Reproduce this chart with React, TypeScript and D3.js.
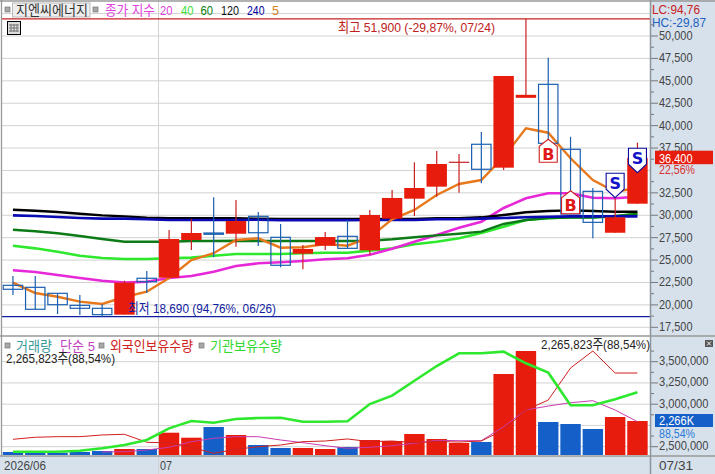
import React from "react";
import * as d3 from "d3";

const opens = [22186,21960,21290,19950,19620,18910,22970,23030,27240,28020,27940,29880,27540,25710,26600,27650,26090,29620,31850,33190,35910,37920,35310,43270,44610,37360,32670,28050,31290];
const highs = [23223,23220,21290,21100,20100,22700,23780,28350,29550,32000,31700,30360,29030,26680,28130,29470,30590,32820,35910,37170,36830,39290,45540,51900,47580,38760,33040,31890,38100];
const lows = [21103,19510,18980,18870,18690,18910,21330,23030,26120,25310,26490,26570,24190,23970,26120,26310,25570,29620,29920,32070,32520,33570,35050,43270,38030,30140,27430,28050,31290];
const closes = [21740,19510,20020,19620,18910,22480,22590,27350,28020,27880,29360,28050,24420,26240,27570,26310,30030,31930,33040,35720,35910,35130,45540,43270,38030,30140,29210,29770,36400];

const ma5 = [22480,21330,20910,20360,20100,20880,21470,23000,25010,25760,27240,27430,26380,26430,26790,26600,27540,29550,30590,32260,33490,33930,36500,39700,39210,36360,33930,32630,33040];
const ma20 = [23860,23670,23340,23000,22700,22480,22590,23000,23220,23700,24340,24640,24750,24900,25090,25200,25600,26270,27050,27800,28610,29280,30810,31890,32450,32450,31960,31890,32070];
const ma40 = [26600,26310,25930,25490,25230,25120,25120,25200,25270,25490,25680,25680,25680,25760,25820,25820,26050,26310,26760,27050,27430,28020,28720,29470,29660,29770,29770,29840,30220];
const ma60 = [28390,28210,27990,27690,27350,27050,27050,27050,27130,27130,27160,27130,27130,27130,27130,27130,27160,27320,27540,27760,27940,28170,29030,29470,29690,29750,29750,29920,30140];
const ma120 = [30620,30510,30360,30170,29990,29880,29730,29660,29660,29660,29660,29620,29580,29580,29580,29580,29580,29580,29580,29660,29660,29770,30030,30330,30480,30550,30480,30400,30400];
const ma240 = [29990,29920,29810,29690,29620,29620,29550,29470,29470,29470,29470,29500,29440,29440,29440,29440,29470,29470,29470,29550,29550,29620,29690,29770,29840,29880,29880,29880,29880];

const volumes = [200000,153000,153000,200000,267000,400000,400000,1486000,1153000,1866000,1333000,666000,466000,466000,400000,533000,1000000,933000,1400000,1066000,800000,866000,5398000,6931000,2199000,2066000,1733000,2532000,2265823];
const volumeUp = [0,0,0,0,0,1,0,1,1,0,1,0,0,1,1,0,1,1,1,1,1,0,1,1,0,0,0,1,1];
const volumeAvg5 = [200000,220000,333000,513000,886000,1113000,1220000,1220000,1000000,820000,620000,446000,513000,620000,780000,980000,953000,953000,1886000,2999000,3265000,3485000,3619000,2999000,2219000];
const foreignHold = [2587000,2611000,2618000,2618000,2638000,2646000,2552000,2544000,2493000,2422000,2469000,2500000,2520000,2559000,2567000,2591000,2559000,2567000,2547000,2561000,2555000,2567000,2696000,2932000,3049000,3426000,3626000,3367000,3367000];
const instHold = [2441000,2441000,2441000,2453000,2481000,2520000,2579000,2716000,2802000,2782000,2826000,2838000,2841000,2794000,2794000,2799000,3002000,3100000,3276000,3449000,3599000,3599000,3618000,3481000,3371000,2987000,2987000,3058000,3140000];

const priceGrid = [52500,50000,47500,45000,42500,40000,37500,35000,32500,30000,27500,25000,22500,20000,17500];
const priceLabels = [50000,47500,45000,42500,40000,37500,32500,30000,27500,25000,22500,20000,17500];
const holdGrid = [3500000,3250000,3000000,2750000,2500000];
const holdLabels = [3500000,3250000,3000000,2500000];
const maxPrice = 51900;
const minPrice = 18690;
const markers = [
  { i: 24, kind: "B", price: 38475 },
  { i: 25, kind: "B", price: 32740 },
  { i: 27, kind: "S", price: 31960 },
  { i: 28, kind: "S", price: 34750 },
];

const RED = "#e81c0c";
const BLUE = "#1a5fb0";
const GRID = "#d2d2d2";
const PANEL = "#d6e1ec";
const FONT = '"Liberation Sans","Noto Sans CJK KR",sans-serif';

function T({ x, y, w, fill = "#444", size = 13.5, weight, children, anchor }: any) {
  return (
    <text x={x} y={y} textLength={w} lengthAdjust="spacingAndGlyphs" fill={fill} fontSize={size}
      fontFamily={FONT} fontWeight={weight} textAnchor={anchor}>{children}</text>
  );
}

function Square({ x, y }: any) {
  return <rect x={x} y={y} width={5} height={5} fill="#a8a8a8" stroke="#777" strokeWidth={0.7} />;
}

export default function App() {
  const idx = d3.range(opens.length);
  const band = d3.scaleBand<number>().domain(idx).range([1.85, 648.55]).paddingInner(0.085).paddingOuter(0.04);
  const cx = (i: number) => (band(i) as number) + band.bandwidth() / 2;
  const py = d3.scaleLinear().domain([17500, 50000]).range([327.3, 36]);
  const hy = d3.scaleLinear().domain([2500000, 3500000]).range([446.7, 361.7]);
  const vy = d3.scaleLinear().domain([0, 6931000]).range([455, 351]);
  const fmt = d3.format(",");
  const line = (scale: any, offset = 0) =>
    d3.line<number>().x((_, i) => cx(i + offset)).y((d) => scale(d)).curve(d3.curveLinear);
  const minorTicks = d3.range(18750, 52500, 2500);
  const minorHold = [3625000,3375000,3125000,2875000,2625000];
  const maSeries: [number[], string, number][] = [
    [ma40, "#2ee82e", 2.6],
    [ma20, "#e628d8", 2.6],
    [ma60, "#0c7a16", 2.4],
    [ma120, "#000000", 2.4],
    [ma240, "#0a0ab4", 2.6],
    [ma5, "#e8781c", 2.4],
  ];
  return (
    <svg width={715} height={474} style={{ position: "fixed", left: 0, top: 0, background: "#fff" }}>
      <rect x={650.5} y={0} width={65} height={474} fill={PANEL} />
      <rect x={0} y={456} width={715} height={18} fill={PANEL} />
      {priceGrid.map((t) => (
        <line key={t} x1={2} x2={650} y1={py(t)} y2={py(t)} stroke={GRID} strokeWidth={1} />
      ))}
      {holdGrid.map((t) => (
        <line key={t} x1={2} x2={650} y1={hy(t)} y2={hy(t)} stroke={GRID} strokeWidth={1} />
      ))}
      <line x1={158.5} x2={158.5} y1={0} y2={474} stroke={GRID} strokeWidth={1} />
      {maSeries.map(([s, c, w], k) => (
        <path key={k} d={line(py)(s) as string} fill="none" stroke={c} strokeWidth={w} />
      ))}
      <line x1={2} x2={650} y1={py(minPrice)} y2={py(minPrice)} stroke="#1020a0" strokeWidth={1.2} />
      <line x1={2} x2={650} y1={py(maxPrice)} y2={py(maxPrice)} stroke="#c82020" strokeWidth={1.2} />
      {idx.map((i) => {
        const flat = closes[i] === opens[i];
        const isRed = closes[i] >= opens[i];
        const top = py(Math.max(opens[i], closes[i]));
        const bot = py(Math.min(opens[i], closes[i]));
        const bw = band.bandwidth();
        const x0 = band(i) as number;
        return (
          <g key={i}>
            <line x1={cx(i)} x2={cx(i)} y1={py(highs[i])} y2={py(lows[i])}
              stroke={isRed ? "#c82020" : BLUE} strokeWidth={1.2} />
            {isRed ? (
              <rect x={x0} y={top - (flat ? (i === 23 ? 1.5 : 0.6) : 0)} width={bw}
                height={flat ? (i === 23 ? 3 : 1.2) : bot - top} fill={i === 20 ? "#c82020" : RED} />
            ) : (
              <rect x={x0 + 0.5} y={top} width={bw - 1} height={bot - top} fill="none" stroke={BLUE} strokeWidth={1.2} />
            )}
          </g>
        );
      })}
      {markers.map((m, k) => {
        const x = cx(m.i);
        const y = py(m.price);
        const buy = m.kind === "B";
        const d = buy
          ? `M${x},${y}L${x + 9},${y + 7}V${y + 23}H${x - 9}V${y + 7}Z`
          : `M${x},${y}L${x + 9},${y - 8.5}V${y - 24.5}H${x - 9}V${y - 8.5}Z`;
        return (
          <g key={k}>
            <path d={d} fill="#fff" stroke={buy ? "#d02020" : "#0a0a9a"} strokeWidth={1.1} />
            <text x={x} y={buy ? y + 20.5 : y - 9} textAnchor="middle" fontSize={16} fontWeight={700}
              fontFamily='"DejaVu Sans",sans-serif' fill={buy ? "#e01818" : "#1010c8"}>{m.kind}</text>
          </g>
        );
      })}
      {idx.map((i) => (
        <rect key={i} x={band(i) as number} y={vy(volumes[i])} width={band.bandwidth()} height={455 - vy(volumes[i])}
          fill={volumeUp[i] ? RED : "#1460c8"} />
      ))}
      <path d={line(vy, 4)(volumeAvg5) as string} fill="none" stroke="#c83cb0" strokeWidth={1} />
      <path d={line(hy)(foreignHold) as string} fill="none" stroke="#d02020" strokeWidth={1} />
      <path d={line(hy)(instHold) as string} fill="none" stroke="#2ee82e" strokeWidth={2.6} />
      <line x1={0} x2={715} y1={1} y2={1} stroke="#999" strokeWidth={1.3} />
      <line x1={1.5} x2={1.5} y1={0} y2={456} stroke="#999" strokeWidth={1.3} />
      <line x1={650.5} x2={650.5} y1={0} y2={474} stroke="#8c949c" strokeWidth={1.5} />
      <line x1={0} x2={715} y1={336} y2={336} stroke="#999" strokeWidth={1.3} />
      <line x1={0} x2={715} y1={456} y2={456} stroke="#999" strokeWidth={1.3} />
      <Square x={5} y={7} />
      <rect x={12.5} y={3} width={77.5} height={14} fill="#eee" stroke="#bbb" />
      <T x={16} y={15} w={72} fill="#333">지엔씨에너지</T>
      <Square x={93} y={7} />
      <T x={105} y={15} w={50} fill="#e040e0">종가 지수</T>
      <T x={160} y={15} w={12.5} fill="#e040e0">20</T>
      <T x={181} y={15} w={12.5} fill="#40e040">40</T>
      <T x={200.5} y={15} w={12.5} fill="#0a800a">60</T>
      <T x={221} y={15} w={18} fill="#111">120</T>
      <T x={247} y={15} w={17.5} fill="#0000a0">240</T>
      <T x={272} y={15} w={7} fill="#d08020">5</T>
      <g>
        <rect x={7.5} y={21.5} width={13} height={13} fill="#ddd" stroke="#000" />
        {[11, 14, 17].map((v) => <line key={v} x1={v} x2={v} y1={24} y2={32} stroke="#777" />)}
        {[25, 28, 31].map((v) => <line key={v} x1={9} x2={19} y1={v} y2={v} stroke="#777" />)}
      </g>
      <T x={338} y={32} w={157} fill="#c02020">최고 51,900 (-29,87%, 07/24)</T>
      <T x={128} y={313} w={148} fill="#1020a0">최저 18,690 (94,76%, 06/26)</T>
      <T x={652} y={14} w={48} fill="#c82020">LC:94,76</T>
      <T x={652} y={26.5} w={54} fill="#2060c0">HC:-29,87</T>
      {minorTicks.map((t) => (
        <line key={t} x1={651} x2={654} y1={py(t)} y2={py(t)} stroke="#777" />
      ))}
      {priceLabels.map((t) => (
        <g key={t}>
          <line x1={651} x2={658} y1={py(t)} y2={py(t)} stroke="#777" />
          <T x={659} y={py(t) + 4} w={33.5}>{fmt(t)}</T>
        </g>
      ))}
      <rect x={655} y={150.7} width={58} height={13.5} fill={RED} />
      <T x={659} y={162.5} w={33.5} fill="#fff">{fmt(closes[28])}</T>
      <T x={659} y={174} w={36} fill="#d83030">22,56%</T>
      {minorHold.map((t) => (
        <line key={t} x1={651} x2={654} y1={hy(t)} y2={hy(t)} stroke="#777" />
      ))}
      {holdLabels.map((t) => (
        <g key={t}>
          <line x1={651} x2={658} y1={hy(t)} y2={hy(t)} stroke="#777" />
          <T x={659} y={hy(t) + 3.5} w={49.5}>{fmt(t)}</T>
        </g>
      ))}
      <rect x={655} y={414} width={58} height={13} fill="#1460c8" />
      <T x={659} y={425} w={35} fill="#fff">2,266K</T>
      <T x={659} y={437.5} w={36} fill="#2a7ad8">88,54%</T>
      <g>
        <rect x={705} y={340} width={8} height={7} fill="#555" />
        <path d="M707,341.5L711,345.5M711,341.5L707,345.5" stroke="#fff" strokeWidth={1} />
      </g>
      <Square x={5} y={343} />
      <T x={16} y={351} w={36} fill="#3a9a9a">거래량</T>
      <T x={60} y={351} w={35} fill="#c040c0">단순 5</T>
      <Square x={99} y={343} />
      <T x={110} y={351} w={83} fill="#d02020">외국인보유수량</T>
      <Square x={199} y={343} />
      <T x={210} y={351} w={72} fill="#30d830">기관보유수량</T>
      <T x={6} y={363} w={109} fill="#222">2,265,823주(88,54%)</T>
      <T x={541} y={349} w={109} fill="#222">2,265,823주(88,54%)</T>
      <T x={4} y={469.5} w={42}>2026/06</T>
      <T x={160} y={469.5} w={12}>07</T>
      <T x={659} y={469.5} w={34}>07/31</T>
    </svg>
  );
}
